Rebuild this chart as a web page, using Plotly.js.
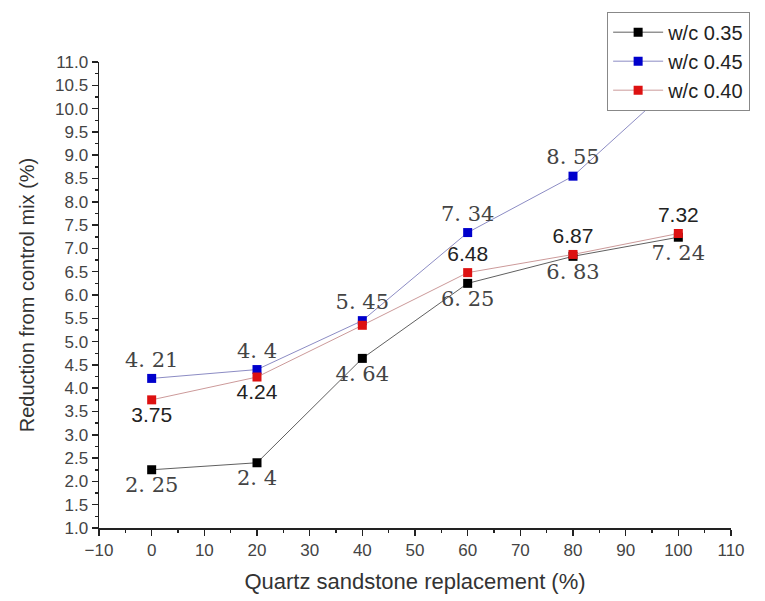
<!DOCTYPE html>
<html>
<head>
<meta charset="utf-8">
<script src="https://cdn.plot.ly/plotly-3.0.1.min.js"></script>
<style>html,body{margin:0;padding:0;background:#fff;}#chart{width:765px;height:601px;}</style>
</head>
<body>
<div id="chart"></div>
<script>
var replacement = [0, 20, 40, 60, 80, 100];
var seriesNames = ['w/c 0.35', 'w/c 0.45', 'w/c 0.40'];
var wc035 = [2.25, 2.4, 4.64, 6.25, 6.83, 7.24];
var wc045 = [4.21, 4.4, 5.45, 7.34, 8.55, 10.6];
var wc040 = [3.75, 4.24, 5.35, 6.48, 6.87, 7.32];
var labels035 = ['2. 25', '2. 4', '4. 64', '6. 25', '6. 83', '7. 24'];
var labels045 = ['4. 21', '4. 4', '5. 45', '7. 34', '8. 55', ''];
var labels040 = ['3.75', '4.24', '', '6.48', '6.87', '7.32'];
var pos040 = ['bottom center', 'bottom center', 'top center', 'top center', 'top center', 'top center'];

var sans = 'Liberation Sans, Arial, sans-serif';
var serif = {family: 'DejaVu Serif, Liberation Serif, serif', size: 21, color: '#444'};
var traces = [
  {x: replacement, y: wc035, name: seriesNames[0], mode: 'lines+markers+text',
   text: labels035, textposition: 'bottom center', textfont: serif, cliponaxis: false,
   line: {color: '#606060', width: 1}, marker: {symbol: 'square', size: 9, color: '#000000'}},
  {x: replacement, y: wc045, name: seriesNames[1], mode: 'lines+markers+text',
   text: labels045, textposition: 'top center', textfont: serif, cliponaxis: false,
   line: {color: '#8c8cc4', width: 1}, marker: {symbol: 'square', size: 9, color: '#0000cc'}},
  {x: replacement, y: wc040, name: seriesNames[2], mode: 'lines+markers+text',
   text: labels040, textposition: pos040, cliponaxis: false,
   textfont: {family: sans, size: 21, color: '#222'},
   line: {color: '#cc9a9a', width: 1}, marker: {symbol: 'square', size: 9, color: '#dd1111'}}
];

var layout = {
  width: 765, height: 601,
  margin: {l: 99, r: 34, t: 62, b: 73},
  paper_bgcolor: '#fff', plot_bgcolor: '#fff',
  showlegend: true,
  legend: {x: 0.804, y: 1.108, xanchor: 'left', yanchor: 'top',
    bgcolor: '#fff', bordercolor: '#888', borderwidth: 1,
    font: {family: sans, size: 20, color: '#222'},
    tracegroupgap: 0, itemwidth: 50},
  xaxis: {
    range: [-10, 110], tickmode: 'linear', tick0: -10, dtick: 10,
    showgrid: false, zeroline: false, showline: true, linecolor: '#222', linewidth: 1.5,
    ticks: 'outside', ticklen: 6, tickwidth: 1.5, tickcolor: '#222',
    minor: {ticks: 'outside', dtick: 5, ticklen: 3, tickcolor: '#222', showgrid: false},
    tickfont: {family: sans, size: 17, color: '#444'},
    title: {text: 'Quartz sandstone replacement (%)', standoff: 14,
      font: {family: sans, size: 22, color: '#333'}}
  },
  yaxis: {
    range: [1, 11], tickmode: 'linear', tick0: 1, dtick: 0.5, tickformat: '.1f',
    showgrid: false, zeroline: false, showline: true, linecolor: '#222', linewidth: 1.5,
    ticks: 'outside', ticklen: 6, tickwidth: 1.5, tickcolor: '#222',
    minor: {ticks: 'outside', dtick: 0.25, ticklen: 3, tickcolor: '#222', showgrid: false},
    tickfont: {family: sans, size: 17, color: '#444'},
    title: {text: 'Reduction from control mix (%)', standoff: 15,
      font: {family: sans, size: 20, color: '#333'}}
  }
};
Plotly.newPlot('chart', traces, layout, {displayModeBar: false, staticPlot: true});
</script>
</body>
</html>
